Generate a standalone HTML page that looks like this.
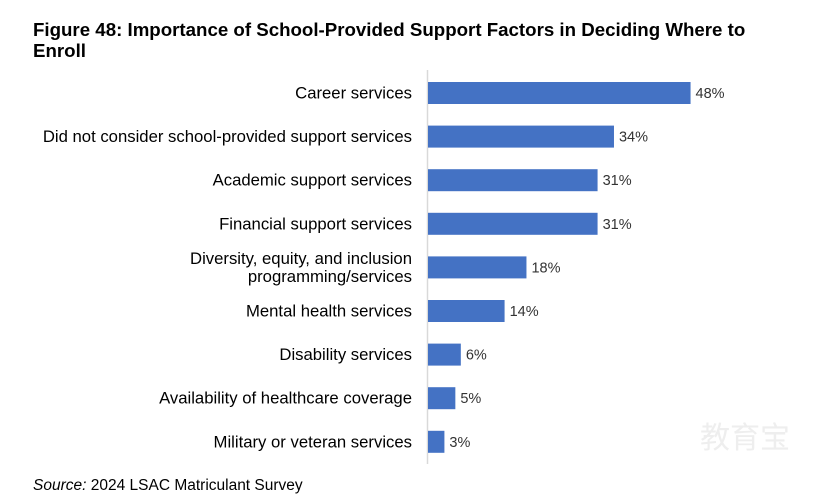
<!DOCTYPE html>
<html><head><meta charset="utf-8"><style>
body{margin:0;background:#fff;}
svg{display:block;font-family:"Liberation Sans",Arial,sans-serif;}
</style></head><body>
<svg width="830" height="504" viewBox="0 0 830 504">
<text x="33" y="36" font-size="18.7" font-weight="bold" fill="#000">Figure 48: Importance of School-Provided Support Factors in Deciding Where to</text>
<text x="33" y="57" font-size="18.7" font-weight="bold" fill="#000">Enroll</text>
<line x1="427.5" y1="70" x2="427.5" y2="464" stroke="#d9d9d9" stroke-width="1.5"/>
<g id="bars"></g>
<text x="33" y="490" font-size="15.5" fill="#000"><tspan font-style="italic">Source:</tspan> 2024 LSAC Matriculant Survey</text>
<text x="700" y="448" font-size="30" fill="#eee">教育宝</text>
</svg>
<script>
const categories=[["Career services"],["Did not consider school-provided support services"],["Academic support services"],["Financial support services"],["Diversity, equity, and inclusion","programming/services"],["Mental health services"],["Disability services"],["Availability of healthcare coverage"],["Military or veteran services"]];
const values=[48,34,31,31,18,14,6,5,3];
const valueLabels=["48%","34%","31%","31%","18%","14%","6%","5%","3%"];
const x0=428, pxPer=5.47, top0=82, pitch=43.6, bh=22;
const xs=v=>x0+v*pxPer;
const ys=i=>top0+i*pitch;
const g=document.getElementById('bars');
const NS='http://www.w3.org/2000/svg';
values.forEach((v,i)=>{
 const r=document.createElementNS(NS,'rect');
 r.setAttribute('x',x0);r.setAttribute('y',ys(i));r.setAttribute('width',xs(v)-x0);r.setAttribute('height',bh);r.setAttribute('fill','#4472c4');
 
 
 g.appendChild(r);
 const t=document.createElementNS(NS,'text');
 t.setAttribute('x',xs(v)+5);t.setAttribute('y',ys(i)+bh/2+5);t.setAttribute('font-size','14.5');t.setAttribute('fill','#333');
 t.textContent=valueLabels[i];
 
 
 g.appendChild(t);
 const lines=categories[i];
 const cy=ys(i)+bh/2;
 lines.forEach((ln,j)=>{
  const c=document.createElementNS(NS,'text');
  c.setAttribute('x',412);c.setAttribute('text-anchor','end');c.setAttribute('font-size','16.7');c.setAttribute('fill','#000');
  c.setAttribute('y',cy+5.5+(j-(lines.length-1)/2)*18);
  c.textContent=ln;
  
  
  g.appendChild(c);
 });
});
</script>
</body></html>
